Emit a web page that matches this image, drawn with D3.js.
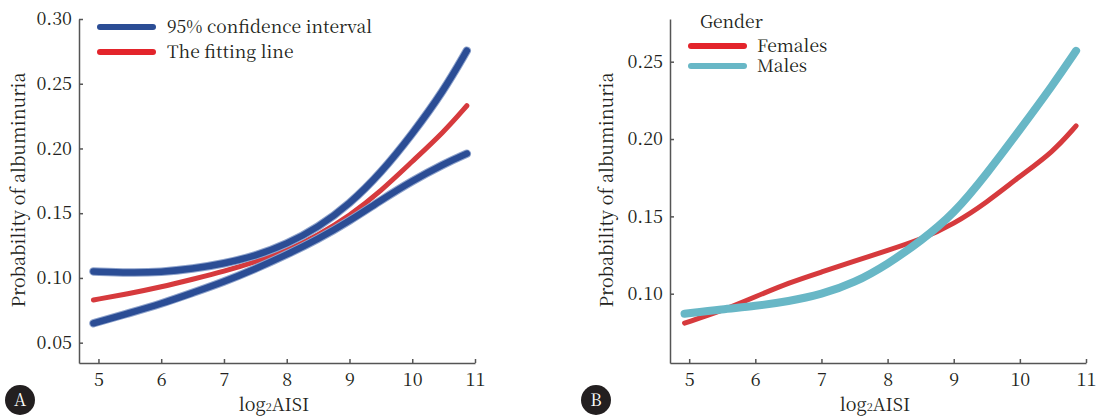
<!DOCTYPE html>
<html>
<head>
<meta charset="utf-8">
<script src="https://cdn.jsdelivr.net/npm/d3@7"></script>
<style>
  body { margin: 0; background: #fff; }
</style>
</head>
<body>
<script>
var width = 1097, height = 416;
var fontStack = "'Noto Serif CJK SC', 'Liberation Serif', serif";
var fs = 18, legFs = 17.5;

// panel A: log2AISI vs probability, fitted line + 95% CI
var xA = [4.92, 5.5, 6, 6.5, 7, 7.5, 8, 8.5, 9, 9.5, 10, 10.5, 10.87];
var ciUpper = [0.105, 0.104, 0.1045, 0.107, 0.111, 0.117, 0.126, 0.139, 0.157, 0.181, 0.211, 0.2445, 0.2755];
var ciLower = [0.065, 0.073, 0.080, 0.0885, 0.097, 0.107, 0.118, 0.130, 0.144, 0.160, 0.175, 0.188, 0.196];
var fitLine = [0.083, 0.088, 0.093, 0.099, 0.105, 0.1125, 0.121, 0.133, 0.148, 0.167, 0.190, 0.2125, 0.233];

// panel B: by gender
var xB = [4.93, 5.5, 6, 6.5, 7, 7.5, 8, 8.5, 9, 9.5, 10, 10.5, 10.85];
var females = [0.081, 0.089, 0.098, 0.107, 0.114, 0.121, 0.128, 0.135, 0.145, 0.159, 0.176, 0.1915, 0.2085];
var males = [0.087, 0.090, 0.092, 0.095, 0.0995, 0.107, 0.119, 0.134, 0.1515, 0.1775, 0.206, 0.235, 0.257];

var xTicks = [5, 6, 7, 8, 9, 10, 11];
var yTicksA = [0.05, 0.10, 0.15, 0.20, 0.25, 0.30];
var yTicksB = [0.10, 0.15, 0.20, 0.25];

var svg = d3.select("body").append("svg")
    .attr("width", width)
    .attr("height", height)
    .style("font-family", fontStack);

function zipXY(xs, ys) { return xs.map(function(x, i) { return [x, ys[i]]; }); }

function drawPanel(opt) {
  var x = d3.scaleLinear().domain(opt.xDomain).range(opt.xRange);
  var y = d3.scaleLinear().domain(opt.yDomain).range([363, 19]);

  var g = svg.append("g");

  // axes (ticks point inward)
  var xAxis = g.append("g")
      .attr("transform", "translate(0,363)")
      .call(d3.axisBottom(x).tickValues(xTicks).tickFormat(d3.format("d"))
        .tickSizeInner(-4).tickSizeOuter(0).tickPadding(10));
  var yAxis = g.append("g")
      .attr("transform", "translate(" + opt.xRange[0] + ",0)")
      .call(d3.axisLeft(y).tickValues(opt.yTicks).tickFormat(d3.format(".2f"))
        .tickSizeInner(-4).tickSizeOuter(0).tickPadding(7));

  [xAxis, yAxis].forEach(function(a) {
    a.attr("font-family", null);
    a.select(".domain").attr("stroke", "#555").attr("stroke-width", 1.5);
    a.selectAll(".tick line").attr("stroke", "#555").attr("stroke-width", 1.5);
    a.selectAll(".tick text").attr("font-size", fs).attr("fill", "#231f20");
  });

  var line = d3.line()
      .curve(d3.curveBasis)
      .x(function(d) { return x(d[0]); })
      .y(function(d) { return y(d[1]); });

  opt.series.forEach(function(s) {
    if (s.halo) {
      g.append("path")
        .attr("d", line(s.pts))
        .attr("fill", "none")
        .attr("stroke", s.halo)
        .attr("stroke-width", s.w + 2)
        .attr("stroke-linecap", "round");
    }
    g.append("path")
      .attr("d", line(s.pts))
      .attr("fill", "none")
      .attr("stroke", s.color)
      .attr("stroke-width", s.w)
      .attr("stroke-linecap", "round");
  });

  // axis titles
  g.append("text")
    .attr("transform", "translate(" + opt.yLabelX + ",190)rotate(-90)")
    .attr("text-anchor", "middle")
    .attr("dy", "0.35em")
    .attr("font-size", fs)
    .text("Probability of albuminuria");

  var xl = g.append("text")
    .attr("x", opt.xLabelX)
    .attr("y", 411)
    .attr("text-anchor", "middle")
    .attr("font-size", fs);
  xl.append("tspan").text("log");
  xl.append("tspan").attr("font-size", 11).text("2");
  xl.append("tspan").text("AISI");

  // panel letter
  g.append("circle")
    .attr("cx", opt.badgeX).attr("cy", 400).attr("r", 15)
    .attr("fill", "#231f20");
  g.append("text")
    .attr("class", "badge")
    .attr("x", opt.badgeX).attr("y", 400)
    .attr("dy", "0.35em")
    .attr("text-anchor", "middle")
    .attr("font-size", 17)
    .text(opt.badge);

  return g;
}

var blue = "#2b4d95", blueHalo = "#8ea3cc", red = "#d63a3d", cyan = "#68b7c6";

var gA = drawPanel({
  xDomain: [4.69, 11], xRange: [79, 475],
  yDomain: [0.0343, 0.30], yTicks: yTicksA,
  yLabelX: 19, xLabelX: 274, badgeX: 20, badge: "A",
  series: [
    { pts: zipXY(xA, fitLine), color: red, w: 5 },
    { pts: zipXY(xA, ciUpper), color: blue, w: 6.5, halo: blueHalo },
    { pts: zipXY(xA, ciLower), color: blue, w: 6.5, halo: blueHalo }
  ]
});

var gB = drawPanel({
  xDomain: [4.71, 11], xRange: [670, 1086],
  yDomain: [0.0552, 0.2776], yTicks: yTicksB,
  yLabelX: 607, xLabelX: 875, badgeX: 596, badge: "B",
  series: [
    { pts: zipXY(xB, females), color: red, w: 5 },
    { pts: zipXY(xB, males), color: cyan, w: 8 }
  ]
});

// legends
var legA = [
  { label: "95% confidence interval", color: "#2b4d95", y: 27 },
  { label: "The fitting line", color: "#e3242b", y: 52 }
];
legA.forEach(function(d) {
  gA.append("line").attr("x1", 100).attr("x2", 153).attr("y1", d.y).attr("y2", d.y)
    .attr("stroke", d.color).attr("stroke-width", 6).attr("stroke-linecap", "round");
  gA.append("text").attr("x", 167).attr("y", d.y + 6).attr("font-size", legFs).text(d.label);
});

gB.append("text").attr("x", 700).attr("y", 28).attr("font-size", legFs).text("Gender");
var legB = [
  { label: "Females", color: "#e3242b", y: 46 },
  { label: "Males", color: "#68b7c6", y: 66 }
];
legB.forEach(function(d) {
  gB.append("line").attr("x1", 691).attr("x2", 744).attr("y1", d.y).attr("y2", d.y)
    .attr("stroke", d.color).attr("stroke-width", 6).attr("stroke-linecap", "round");
  gB.append("text").attr("x", 757).attr("y", d.y + 6).attr("font-size", legFs).text(d.label);
});

// force the serif face on every text node
svg.selectAll("text")
    .style("font-family", fontStack)
    .style("fill", "#231f20");
svg.selectAll("text.badge").style("fill", "#fff");
</script>
</body>
</html>
